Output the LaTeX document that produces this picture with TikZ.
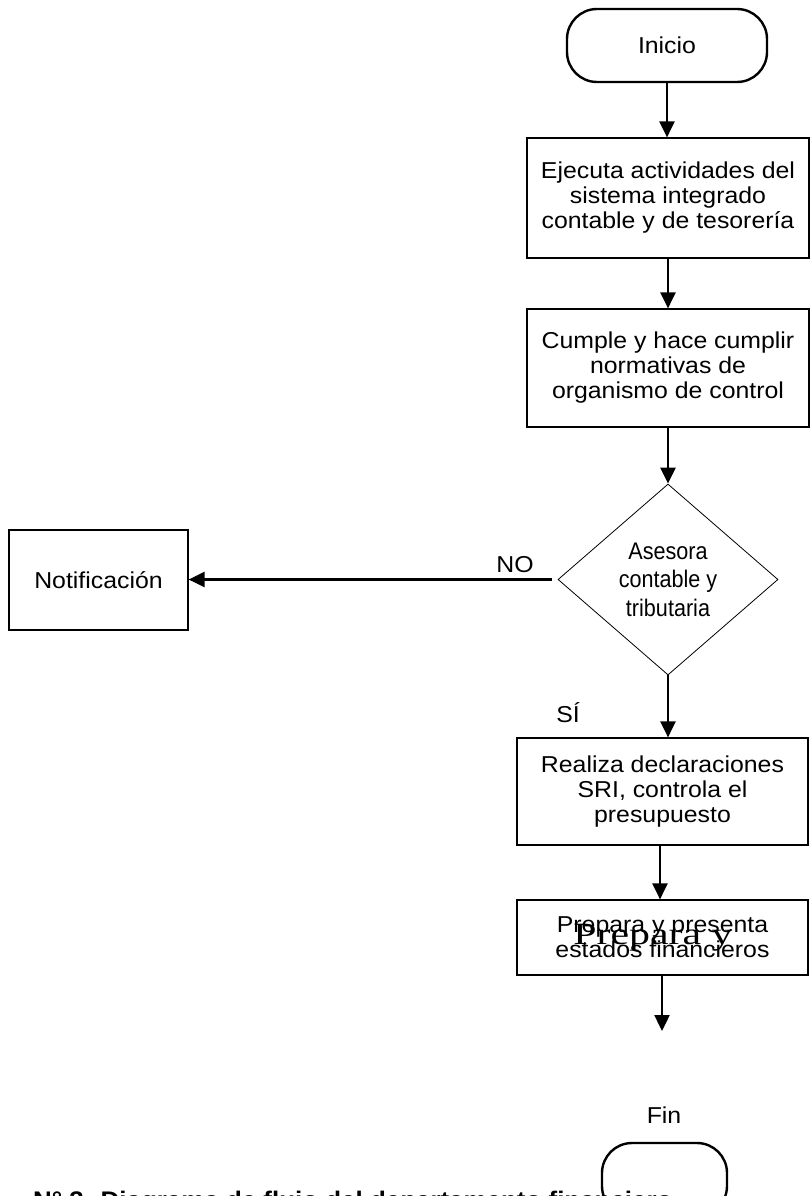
\documentclass[tikz,border=0pt]{standalone}
\usepackage{fontspec}
\setmainfont{Liberation Sans}[FakeStretch=1.08]
\newfontfamily\narrowsans{Liberation Sans}[FakeStretch=0.9]
\newfontfamily\overlayserif{Liberation Serif}[FakeStretch=1.35]
\usetikzlibrary{arrows.meta,shapes.geometric}

\tikzset{
  txt/.style={font=\fontsize{23}{25}\selectfont, align=center, inner sep=0pt},
  proc/.style={draw, line width=1.2pt, txt},
  term/.style={draw, line width=2.4pt, rounded corners=30pt, txt},
  decision/.style={draw, line width=0.8pt, diamond, inner sep=0pt, align=center,
    font=\narrowsans\fontsize{24}{28.5}\selectfont},
  conn/.style={line width=2.4pt, -{Triangle[length=16pt,width=15pt]}},
}

\begin{document}
\begin{tikzpicture}[x=1pt,y=-1pt]
  \useasboundingbox (0,0) rectangle (811,1196);
  \clip (0,0) rectangle (811,1196);

  % start and end
  \node[term, minimum width=200pt, minimum height=73pt] (ini) at (667,45.5) {Inicio};
  \node[term, minimum width=125pt, minimum height=73pt] (fin) at (664.5,1179.5) {};
  \node[txt] (finlabel) at (664,1115) {Fin};

  % process steps
  \node[proc, minimum width=282pt, minimum height=120pt] (b1) at (668,198)
    {Ejecuta actividades del\\sistema integrado\\contable y de tesorería};
  \node[proc, minimum width=282pt, minimum height=118pt] (b2) at (668,368)
    {Cumple y hace cumplir\\normativas de\\organismo de control};
  \node[decision, minimum width=220pt, minimum height=191pt] (dia) at (668,579.5)
    {Asesora\\contable y\\tributaria};
  \node[proc, minimum width=179pt, minimum height=100pt] (notif) at (98.5,580) {Notificación};
  \node[proc, minimum width=291pt, minimum height=107pt] (b3) at (662.5,791.5)
    {Realiza declaraciones\\SRI, controla el\\presupuesto};
  \node[proc, minimum width=291pt, minimum height=75pt] (b4) at (662.5,937.5)
    {Prepara y presenta\\estados financieros};
  \node[font=\overlayserif\fontsize{31}{33}\selectfont, inner sep=0pt] (b4over) at (653,938) {Prepara y};

  % branch labels
  \node[txt] (no) at (515,565) {NO};
  \node[txt] (si) at (568,713) {SÍ};

  % connectors
  \coordinate (nostart) at (552,579.5);
  \coordinate (endtip) at (662,1031);
  \draw[conn] (ini) -- (ini.south |- b1.north);
  \draw[conn] (b1) -- (b2);
  \draw[conn] (b2) -- (dia);
  \draw[conn] (nostart) -- (nostart -| notif.east);
  \draw[conn] (dia.south) -- (dia.south |- b3.north);
  \draw[conn] (b3.south -| 660,0) -- (b4.north -| 660,0);
  \draw[conn] (b4.south -| endtip) -- (endtip);

  % caption below the chart, running past the page edge
  \node[anchor=base west, inner sep=0pt, font=\bfseries\fontsize{24}{26}\selectfont] (cap) at (33,1208)
    {N° 3. Diagrama de flujo del departamento financiero};
\end{tikzpicture}
\end{document}
